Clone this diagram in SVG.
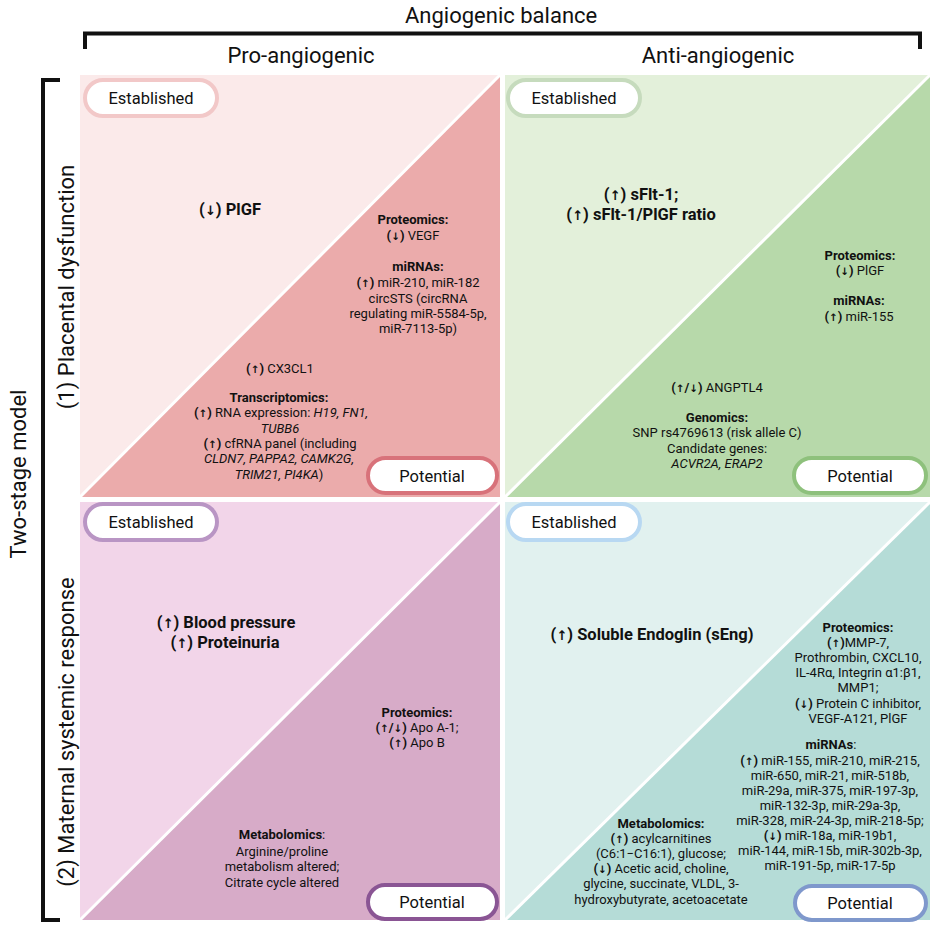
<svg xmlns="http://www.w3.org/2000/svg" width="935" height="929" viewBox="0 0 935 929">
<style>
text{font-family:Roboto,"Liberation Sans","DejaVu Sans",sans-serif;fill:#111;}
.hd{font-size:22px;}
.sm{font-size:13px;text-anchor:middle;}
.big{font-size:16.5px;font-weight:bold;text-anchor:middle;}
.b{font-weight:bold;}
.i{font-style:italic;}
.a{font-family:"DejaVu Sans",sans-serif;font-weight:bold;font-size:0.8em;}
.pill{fill:#fff;stroke-width:4;}
.pl{font-size:16.5px;text-anchor:middle;}
.br{fill:none;stroke:#111;stroke-width:4;}
.diag{stroke:#fff;stroke-width:3;}
</style>
<rect width="935" height="929" fill="#fff"/>
<g id="brackets">
<path class="br" d="M85,49 V33.5 H920 V49"/>
<path class="br" d="M60,80 H43 V920 H60"/>
</g>
<g id="headers">
<text class="hd" x="405" y="23">Angiogenic balance</text>
<text class="hd" x="301" y="63" text-anchor="middle">Pro-angiogenic</text>
<text class="hd" x="718" y="63" text-anchor="middle">Anti-angiogenic</text>
<text class="hd" transform="translate(26,474) rotate(-90)" text-anchor="middle">Two-stage model</text>
<text class="hd" transform="translate(74,287) rotate(-90)" text-anchor="middle">(1) Placental dysfunction</text>
<text class="hd" transform="translate(74,732) rotate(-90)" text-anchor="middle">(2) Maternal systemic response</text>
</g>
<g id="q-pro-placental">
<rect x="80" y="75" width="420" height="422" fill="#fbeaea"/>
<polygon points="500,75 500,497 80,497" fill="#ebabab"/>
<line class="diag" x1="80" y1="497" x2="500" y2="75"/>
<rect class="pill" x="85" y="80" width="132" height="36" rx="18" stroke="#f2c8c8"/>
<text class="pl" x="151" y="104">Established</text>
<rect class="pill" x="368" y="458" width="129" height="35" rx="17.5" stroke="#d8727a"/>
<text class="pl" x="432" y="482" font-size="17">Potential</text>
<text class="big" x="230" y="215">(<tspan class="a">↓</tspan>) PlGF</text>
<text class="sm b" x="413" y="224">Proteomics:</text>
<text class="sm" x="413" y="240"><tspan class="b">(<tspan class="a">↓</tspan>)</tspan> VEGF</text>
<text class="sm b" x="418" y="271">miRNAs:</text>
<text class="sm" x="418" y="287"><tspan class="b">(<tspan class="a">↑</tspan>)</tspan> miR-210, miR-182</text>
<text class="sm" x="418" y="303">circSTS (circRNA</text>
<text class="sm" x="418" y="318">regulating miR-5584-5p,</text>
<text class="sm" x="418" y="333">miR-7113-5p)</text>
<text class="sm" x="280" y="373"><tspan class="b">(<tspan class="a">↑</tspan>)</tspan> CX3CL1</text>
<text class="sm b" x="279" y="402">Transcriptomics:</text>
<text class="sm" x="281" y="417"><tspan class="b">(<tspan class="a">↑</tspan>)</tspan> RNA expression: <tspan class="i">H19, FN1,</tspan></text>
<text class="sm i" x="280" y="433">TUBB6</text>
<text class="sm" x="280" y="448"><tspan class="b">(<tspan class="a">↑</tspan>)</tspan> cfRNA panel (including</text>
<text class="sm i" x="279" y="463">CLDN7, PAPPA2, CAMK2G,</text>
<text class="sm" x="279" y="479"><tspan class="i">TRIM21, PI4KA</tspan>)</text>
</g>
<g id="q-anti-placental">
<rect x="505" y="75" width="425" height="422" fill="#e3f0da"/>
<polygon points="930,75 930,497 505,497" fill="#b7d9aa"/>
<line class="diag" x1="505" y1="497" x2="930" y2="75"/>
<rect class="pill" x="508" y="80" width="132" height="36" rx="18" stroke="#c6dbbd"/>
<text class="pl" x="574" y="104">Established</text>
<rect class="pill" x="794" y="458" width="132" height="35" rx="17.5" stroke="#8ec17c"/>
<text class="pl" x="860" y="482" font-size="17">Potential</text>
<text class="big" x="641" y="200">(<tspan class="a">↑</tspan>) sFlt-1;</text>
<text class="big" x="641" y="220">(<tspan class="a">↑</tspan>) sFlt-1/PlGF ratio</text>
<text class="sm b" x="860" y="260">Proteomics:</text>
<text class="sm" x="860" y="275"><tspan class="b">(<tspan class="a">↓</tspan>)</tspan> PlGF</text>
<text class="sm b" x="859" y="305">miRNAs:</text>
<text class="sm" x="859" y="321"><tspan class="b">(<tspan class="a">↑</tspan>)</tspan> miR-155</text>
<text class="sm" x="717" y="392"><tspan class="b">(<tspan class="a">↑</tspan>/<tspan class="a">↓</tspan>)</tspan> ANGPTL4</text>
<text class="sm b" x="717" y="422">Genomics:</text>
<text class="sm" x="717" y="437">SNP rs4769613 (risk allele C)</text>
<text class="sm" x="717" y="453">Candidate genes:</text>
<text class="sm i" x="717" y="468">ACVR2A, ERAP2</text>
</g>
<g id="q-pro-maternal">
<rect x="80" y="502" width="420" height="418" fill="#f2d5e9"/>
<polygon points="500,502 500,920 80,920" fill="#d7abc8"/>
<line class="diag" x1="80" y1="920" x2="500" y2="502"/>
<rect class="pill" x="85" y="504" width="132" height="36" rx="18" stroke="#b995c4"/>
<text class="pl" x="151" y="528">Established</text>
<rect class="pill" x="368" y="885" width="129" height="34" rx="17" stroke="#8a5594"/>
<text class="pl" x="432" y="908" font-size="17">Potential</text>
<text class="big" x="226" y="628">(<tspan class="a">↑</tspan>) Blood pressure</text>
<text class="big" x="225" y="648">(<tspan class="a">↑</tspan>) Proteinuria</text>
<text class="sm b" x="417" y="717">Proteomics:</text>
<text class="sm" x="417" y="732"><tspan class="b">(<tspan class="a">↑</tspan>/<tspan class="a">↓</tspan>)</tspan> Apo A-1;</text>
<text class="sm" x="417" y="747"><tspan class="b">(<tspan class="a">↑</tspan>)</tspan> Apo B</text>
<text class="sm" x="282" y="839"><tspan class="b">Metabolomics</tspan>:</text>
<text class="sm" x="282" y="856">Arginine/proline</text>
<text class="sm" x="282" y="871">metabolism altered;</text>
<text class="sm" x="282" y="887">Citrate cycle altered</text>
</g>
<g id="q-anti-maternal">
<rect x="505" y="502" width="425" height="418" fill="#e1f1ef"/>
<polygon points="930,502 930,920 505,920" fill="#b5dcd7"/>
<line class="diag" x1="505" y1="920" x2="930" y2="502"/>
<rect class="pill" x="508" y="504" width="132" height="36" rx="18" stroke="#b8d8f2"/>
<text class="pl" x="574" y="528">Established</text>
<rect class="pill" x="795" y="886" width="131" height="34" rx="17" stroke="#7f98cc"/>
<text class="pl" x="860" y="909" font-size="17">Potential</text>
<text class="big" x="652" y="640">(<tspan class="a">↑</tspan>) Soluble Endoglin (sEng)</text>
<text class="sm b" x="858" y="632">Proteomics:</text>
<text class="sm" x="858" y="647"><tspan class="b">(<tspan class="a">↑</tspan>)</tspan>MMP-7,</text>
<text class="sm" x="858" y="662">Prothrombin, CXCL10,</text>
<text class="sm" x="858" y="677">IL-4Rα, Integrin α1:β1,</text>
<text class="sm" x="858" y="692">MMP1;</text>
<text class="sm" x="858" y="708"><tspan class="b">(<tspan class="a">↓</tspan>)</tspan> Protein C inhibitor,</text>
<text class="sm" x="858" y="723">VEGF-A121, PlGF</text>
<text class="sm" x="831" y="749"><tspan class="b">miRNAs</tspan>:</text>
<text class="sm" x="830" y="765"><tspan class="b">(<tspan class="a">↑</tspan>)</tspan> miR-155, miR-210, miR-215,</text>
<text class="sm" x="830" y="780">miR-650, miR-21, miR-518b,</text>
<text class="sm" x="830" y="795">miR-29a, miR-375, miR-197-3p,</text>
<text class="sm" x="830" y="810">miR-132-3p, miR-29a-3p,</text>
<text class="sm" x="830" y="825">miR-328, miR-24-3p, miR-218-5p;</text>
<text class="sm" x="830" y="840"><tspan class="b">(<tspan class="a">↓</tspan>)</tspan> miR-18a, miR-19b1,</text>
<text class="sm" x="830" y="855">miR-144, miR-15b, miR-302b-3p,</text>
<text class="sm" x="830" y="870">miR-191-5p, miR-17-5p</text>
<text class="sm b" x="661" y="828">Metabolomics:</text>
<text class="sm" x="661" y="843"><tspan class="b">(<tspan class="a">↑</tspan>)</tspan> acylcarnitines</text>
<text class="sm" x="661" y="858">(C6:1−C16:1), glucose;</text>
<text class="sm" x="661" y="873"><tspan class="b">(<tspan class="a">↓</tspan>)</tspan> Acetic acid, choline,</text>
<text class="sm" x="661" y="888">glycine, succinate, VLDL, 3-</text>
<text class="sm" x="661" y="904">hydroxybutyrate, acetoacetate</text>
</g>
</svg>
